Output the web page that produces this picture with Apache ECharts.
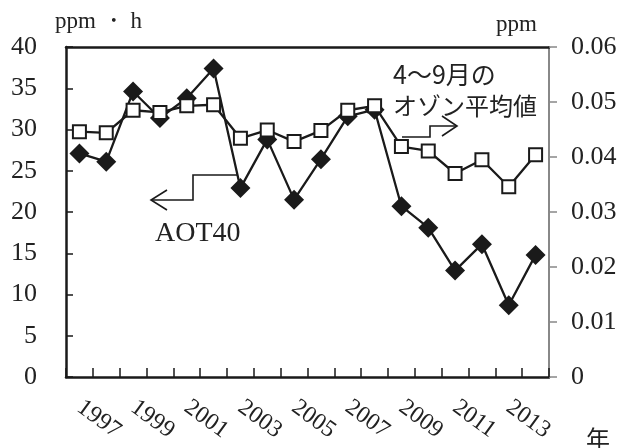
<!DOCTYPE html>
<html>
<head>
<meta charset="utf-8">
<script src="https://cdn.jsdelivr.net/npm/echarts@6/dist/echarts.min.js"></script>
<style>html,body{margin:0;padding:0;background:#fff}#c{width:622px;height:448px}</style>
</head>
<body>
<div id="c"></div>
<script>
var years = ['1997','1998','1999','2000','2001','2002','2003','2004','2005','2006','2007','2008','2009','2010','2011','2012','2013','2014'];
var aot40 = [27.1,26.1,34.6,31.4,33.8,37.4,22.9,28.8,21.5,26.4,31.6,32.4,20.7,18.1,12.9,16.1,8.7,14.8];
var ozone = [0.0446,0.0444,0.0485,0.0481,0.0493,0.0495,0.0434,0.0449,0.0428,0.0448,0.0485,0.0493,0.0419,0.0411,0.0370,0.0395,0.0346,0.0404];
var leftTicks = {min:0, max:40, interval:5};
var rightTicks = {min:0, max:0.06, interval:0.01};

var serif = "'Liberation Serif', 'Times New Roman', serif";
var cjk = "'Noto Sans CJK JP', sans-serif";
var ink = '#1a1a1a';

var chart = echarts.init(document.getElementById('c'), null, {renderer:'canvas'});
chart.setOption({
  animation:false,
  backgroundColor:'#fff',
  grid:{left:66, right:73, top:47, bottom:71},
  xAxis:[{
    type:'category', data:years, boundaryGap:true,
    axisLine:{show:true, onZero:false, lineStyle:{color:ink, width:2.5}},
    axisTick:{show:true, inside:true, length:9, interval:0, alignWithLabel:false, lineStyle:{color:ink, width:1.5}},
    axisLabel:{interval:1, rotate:-36, margin:28, fontFamily:serif, fontSize:24, color:'#222'},
    splitLine:{show:false}
  },{
    type:'category', data:years, position:'top',
    axisLine:{show:true, onZero:false, lineStyle:{color:ink, width:2.5}},
    axisTick:{show:false}, axisLabel:{show:false}, splitLine:{show:false}
  }],
  yAxis:[{
    type:'value', min:leftTicks.min, max:leftTicks.max, interval:leftTicks.interval,
    axisLine:{show:true, lineStyle:{color:ink, width:2.5}},
    axisTick:{show:true, inside:true, length:7, lineStyle:{color:ink, width:1.5}},
    axisLabel:{margin:29, fontFamily:serif, fontSize:26, color:'#222'},
    splitLine:{show:false}
  },{
    type:'value', min:rightTicks.min, max:rightTicks.max, interval:rightTicks.interval, position:'right',
    axisLine:{show:true, lineStyle:{color:'#888', width:2}},
    axisTick:{show:true, inside:false, length:8, lineStyle:{color:'#888', width:1.5}},
    axisLabel:{margin:22, fontFamily:serif, fontSize:26, color:'#222',
      formatter:function(v){ return v === 0 ? '0' : v.toFixed(2); }},
    splitLine:{show:false}
  }],
  series:[{
    name:'AOT40', type:'line', xAxisIndex:0, yAxisIndex:0, data:aot40,
    symbol:'diamond', symbolSize:20, showAllSymbol:true,
    lineStyle:{color:ink, width:2.3},
    itemStyle:{color:ink, borderColor:ink, borderWidth:0}
  },{
    name:'オゾン平均値', type:'line', xAxisIndex:0, yAxisIndex:1, data:ozone,
    symbol:'rect', symbolSize:13, showAllSymbol:true,
    lineStyle:{color:ink, width:2.3},
    itemStyle:{color:'#fff', borderColor:ink, borderWidth:2}
  }],
  graphic:[
    {type:'text', style:{x:55, y:22, text:'ppm ・ h', font:"23px " + serif, fill:'#222', textAlign:'left', textVerticalAlign:'middle'}},
    {type:'text', style:{x:537, y:25, text:'ppm', font:"23px " + serif, fill:'#222', textAlign:'right', textVerticalAlign:'middle'}},
    {type:'text', style:{x:586, y:439, text:'年', font:"24px " + cjk, fill:'#222', textAlign:'left', textVerticalAlign:'middle'}},
    {type:'text', style:{x:155, y:234, text:'AOT40', font:"28px " + serif, fill:'#222', textAlign:'left', textVerticalAlign:'middle'}},
    {type:'text', style:{x:393, y:74, text:'4〜9月の', font:"25px " + cjk, fill:'#222', textAlign:'left', textVerticalAlign:'middle'}},
    {type:'text', style:{x:393, y:106, text:'オゾン平均値', font:"24px " + cjk, fill:'#222', textAlign:'left', textVerticalAlign:'middle'}},
    {type:'polyline', shape:{points:[[237,175],[193,175],[193,200],[151,200]]}, style:{stroke:ink, lineWidth:1.6, fill:null}},
    {type:'polyline', shape:{points:[[167,190],[151,200],[167,210]]}, style:{stroke:ink, lineWidth:1.6, fill:null}},
    {type:'polyline', shape:{points:[[402,137],[430,137],[430,126],[457,126]]}, style:{stroke:ink, lineWidth:1.6, fill:null}},
    {type:'polyline', shape:{points:[[442,116],[457,126],[442,136]]}, style:{stroke:ink, lineWidth:1.6, fill:null}}
  ]
});
</script>
</body>
</html>
